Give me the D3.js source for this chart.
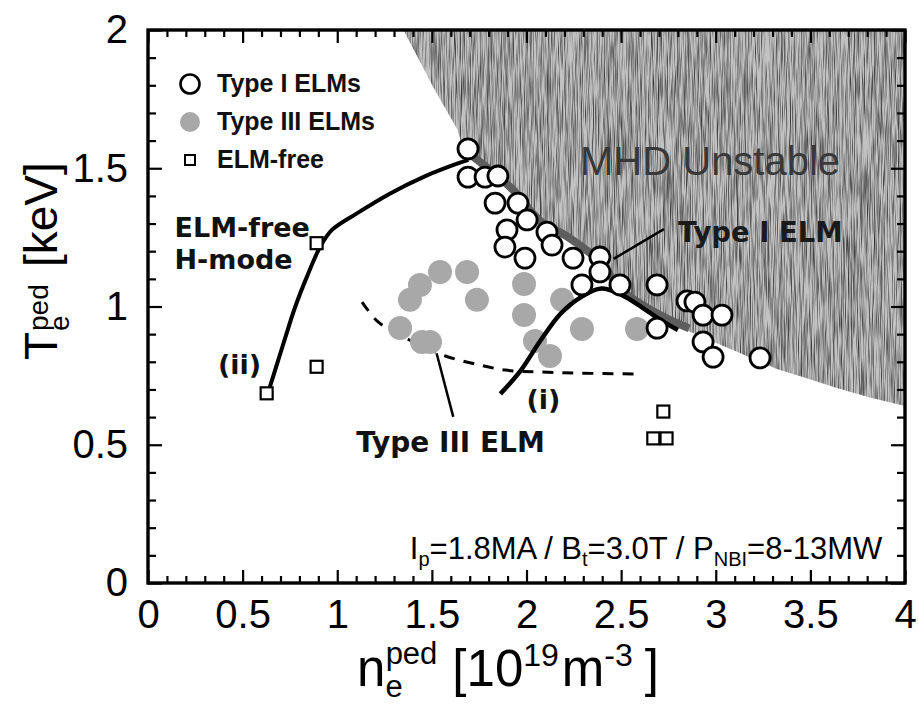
<!DOCTYPE html>
<html>
<head>
<meta charset="utf-8">
<script src="https://cdn.jsdelivr.net/npm/d3@7"></script>
<style>
  body { margin: 0; background: #fff; }
  svg text { font-family: "Liberation Sans", Arial, sans-serif; }
</style>
</head>
<body>
<svg id="chart" width="918" height="708"></svg>
<script>
// ---- data: pedestal density n_e (1e19 m^-3) vs pedestal temperature T_e (keV) ----
const typeIElms = [
  [1.691, 1.570], [1.691, 1.468], [1.781, 1.468], [1.849, 1.472],
  [1.834, 1.374], [1.955, 1.374], [1.897, 1.277], [2.003, 1.313],
  [1.886, 1.215], [1.992, 1.175], [2.108, 1.269], [2.135, 1.222],
  [2.246, 1.175], [2.388, 1.179], [2.293, 1.078], [2.388, 1.125],
  [2.494, 1.078], [2.690, 1.078], [2.690, 0.922], [2.848, 1.020],
  [2.890, 1.016], [2.933, 0.969], [3.033, 0.969], [2.933, 0.872],
  [2.986, 0.817], [3.234, 0.814]
];
const typeIIIElms = [
  [1.543, 1.125], [1.686, 1.125], [1.437, 1.078], [1.384, 1.024],
  [1.738, 1.024], [1.332, 0.922], [1.448, 0.872], [1.490, 0.872],
  [1.987, 1.081], [1.987, 0.969], [2.188, 1.024], [2.045, 0.875],
  [2.124, 0.821], [2.293, 0.919], [2.584, 0.919]
];
const elmFree = [
  [0.627, 0.686], [0.891, 0.782], [0.891, 1.229],
  [2.723, 0.620], [2.670, 0.523], [2.740, 0.523]
];

// MHD stability boundary (lower-left edge of the unstable region)
const boundaryNe = [1.35, 1.51, 1.635, 1.66, 1.72, 1.93, 2.07, 2.22, 2.39, 2.50, 2.70, 2.86, 3.10, 3.32, 3.46, 3.64, 3.82, 4.00];
const boundaryTe = [2.00, 1.79, 1.64, 1.58, 1.53, 1.41, 1.30, 1.24, 1.15, 1.05, 0.96, 0.91, 0.84, 0.775, 0.745, 0.705, 0.67, 0.64];

// trajectory (ii): ELM-free H-mode
const trajIINe = [0.640, 0.716, 0.778, 0.840, 0.910, 0.972, 1.104, 1.280, 1.457, 1.615, 1.693];
const trajIITe = [0.700, 0.867, 0.999, 1.108, 1.216, 1.277, 1.337, 1.409, 1.469, 1.512, 1.530];

// trajectory (i): Type I ELMy H-mode
const trajINe = [1.862, 1.968, 2.074, 2.180, 2.288, 2.395, 2.502, 2.608, 2.714, 2.80];
const trajITe = [0.684, 0.767, 0.877, 0.974, 1.034, 1.065, 1.042, 0.998, 0.949, 0.915];

// Type III ELM threshold (dashed)
const typeIIIBoundNe = [1.131, 1.210, 1.307, 1.439, 1.571, 1.730, 1.889, 2.074, 2.286, 2.566];
const typeIIIBoundTe = [1.016, 0.948, 0.904, 0.861, 0.821, 0.792, 0.770, 0.763, 0.759, 0.756];

// axis ticks
const xMajorTicks = [0, 0.5, 1, 1.5, 2, 2.5, 3, 3.5, 4];
const xTickLabels = ["0", "0.5", "1", "1.5", "2", "2.5", "3", "3.5", "4"];
const yMajorTicks = [0, 0.5, 1, 1.5, 2];
const yTickLabels = ["0", "0.5", "1", "1.5", "2"];

// ---- layout ----
const svg = d3.select("#chart");
const pL = 148, pR = 905, pT = 30, pB = 583;
const x = d3.scaleLinear().domain([0, 4]).range([pL, pR]);
const y = d3.scaleLinear().domain([0, 2]).range([pB, pT]);
const zip = (a, b) => a.map((v, i) => [v, b[i]]);

const defs = svg.append("defs");
defs.append("clipPath").attr("id", "plotClip")
  .append("rect").attr("x", pL).attr("y", pT)
  .attr("width", pR - pL).attr("height", pB - pT);

// fine halftone speckle with faint vertical streaks, used for the shaded region
const speckle = defs.append("filter").attr("id", "speckle")
  .attr("filterUnits", "userSpaceOnUse")
  .attr("color-interpolation-filters", "sRGB")
  .attr("x", 0).attr("y", 0).attr("width", 918).attr("height", 708);
speckle.append("feTurbulence").attr("type", "fractalNoise")
  .attr("baseFrequency", "1.3 0.03").attr("numOctaves", 2).attr("seed", 4)
  .attr("result", "noise");
speckle.append("feColorMatrix").attr("in", "noise").attr("type", "matrix")
  .attr("values", "0 0 0 0 0  0 0 0 0 0  0 0 0 0 0  1.6 0 0 0 -0.62")
  .attr("result", "dots");
speckle.append("feComposite").attr("in", "dots").attr("in2", "SourceAlpha")
  .attr("operator", "in");

const plot = svg.append("g").attr("clip-path", "url(#plotClip)");

// MHD unstable region
const boundary = zip(boundaryNe, boundaryTe);
const region = boundary.concat([[4, 2]]);
const areaPath = d3.line().x(d => x(d[0])).y(d => y(d[1]))(region) + "Z";
plot.append("path").attr("d", areaPath).attr("fill", "#c2c2c2");
plot.append("path").attr("d", areaPath).attr("fill", "#000").attr("filter", "url(#speckle)");

// darker band along the boundary where Type I ELMs sit
const band = boundary.filter(d => d[0] >= 1.7 && d[0] <= 3.0);
plot.append("path")
  .attr("d", d3.line().x(d => x(d[0])).y(d => y(d[1]) - 3).curve(d3.curveCatmullRom)(band))
  .attr("fill", "none").attr("stroke", "#5e5e5e").attr("stroke-width", 8);

plot.append("text")
  .attr("x", x(2.97)).attr("y", y(1.475))
  .attr("text-anchor", "middle")
  .attr("font-size", 40).attr("fill", "#383838")
  .text("MHD Unstable");

// Type III ELM threshold
plot.append("path")
  .attr("d", d3.line().x(d => x(d[0])).y(d => y(d[1])).curve(d3.curveCatmullRom)(zip(typeIIIBoundNe, typeIIIBoundTe)))
  .attr("fill", "none").attr("stroke", "#000").attr("stroke-width", 3)
  .attr("stroke-dasharray", "11 9");

// Type III ELMs
plot.selectAll("circle.t3").data(typeIIIElms).join("circle")
  .attr("class", "t3")
  .attr("cx", d => x(d[0])).attr("cy", d => y(d[1])).attr("r", 12)
  .attr("fill", "#a8a8a8");

// trajectories
const lineGen = d3.line().x(d => x(d[0])).y(d => y(d[1])).curve(d3.curveCatmullRom);
plot.append("path").attr("d", lineGen(zip(trajIINe, trajIITe)))
  .attr("fill", "none").attr("stroke", "#000").attr("stroke-width", 4);
plot.append("path").attr("d", lineGen(zip(trajINe, trajITe)))
  .attr("fill", "none").attr("stroke", "#000").attr("stroke-width", 4.5);

// leader lines
const leaders = [
  [[2.460, 1.172], [2.726, 1.280]],
  [[1.525, 0.831], [1.613, 0.601]]
];
plot.selectAll("line.leader").data(leaders).join("line")
  .attr("class", "leader")
  .attr("x1", d => x(d[0][0])).attr("y1", d => y(d[0][1]))
  .attr("x2", d => x(d[1][0])).attr("y2", d => y(d[1][1]))
  .attr("stroke", "#000").attr("stroke-width", 2.5);

// Type I ELMs
plot.selectAll("circle.t1").data(typeIElms).join("circle")
  .attr("class", "t1")
  .attr("cx", d => x(d[0])).attr("cy", d => y(d[1])).attr("r", 10)
  .attr("fill", "#fff").attr("stroke", "#000").attr("stroke-width", 2.8);

// ELM-free
const sq = 12;
plot.selectAll("rect.ef").data(elmFree).join("rect")
  .attr("class", "ef")
  .attr("x", d => x(d[0]) - sq / 2).attr("y", d => y(d[1]) - sq / 2)
  .attr("width", sq).attr("height", sq)
  .attr("fill", "#fff").attr("stroke", "#000").attr("stroke-width", 2.2);

// annotations (heavy face)
const notes = [
  { t: "ELM-free", ne: 0.14, te: 1.252, size: 27, fill: "#111" },
  { t: "H-mode",   ne: 0.14, te: 1.135, size: 27, fill: "#111" },
  { t: "(ii)",     ne: 0.37, te: 0.755, size: 27, fill: "#111" },
  { t: "(i)",      ne: 2.00, te: 0.630, size: 27, fill: "#111" },
  { t: "Type III ELM", ne: 1.10, te: 0.475, size: 28, fill: "#111" },
  { t: "Type I ELM", ne: 2.80, te: 1.235, size: 27.5, fill: "#1a1a1a" }
];
svg.selectAll("text.note").data(notes).join("text")
  .attr("class", "note")
  .attr("x", d => x(d.ne)).attr("y", d => y(d.te))
  .style("font-family", "'DejaVu Sans', sans-serif").attr("font-weight", "bold")
  .attr("font-size", d => d.size).attr("fill", d => d.fill)
  .text(d => d.t);

// operating parameters
const params = svg.append("text")
  .attr("x", x(3.88)).attr("y", y(0.085))
  .attr("text-anchor", "end").attr("font-size", 31).attr("fill", "#000");
params.append("tspan").text("I");
params.append("tspan").attr("font-size", 20).attr("dy", 7).text("p");
params.append("tspan").attr("dy", -7).text("=1.8MA / B");
params.append("tspan").attr("font-size", 20).attr("dy", 7).text("t");
params.append("tspan").attr("dy", -7).text("=3.0T / P");
params.append("tspan").attr("font-size", 20).attr("dy", 7).text("NBI");
params.append("tspan").attr("dy", -7).text("=8-13MW");

// legend
const legend = svg.append("g");
const legRows = [
  { kind: "t1", label: "Type I ELMs" },
  { kind: "t3", label: "Type III ELMs" },
  { kind: "ef", label: "ELM-free" }
];
legRows.forEach((r, i) => {
  const cy = 84 + i * 38, cx = 190;
  if (r.kind === "t1") {
    legend.append("circle").attr("cx", cx).attr("cy", cy).attr("r", 9.5)
      .attr("fill", "#fff").attr("stroke", "#000").attr("stroke-width", 2.6);
  } else if (r.kind === "t3") {
    legend.append("circle").attr("cx", cx).attr("cy", cy).attr("r", 10)
      .attr("fill", "#a8a8a8");
  } else {
    legend.append("rect").attr("x", cx - 5).attr("y", cy - 5).attr("width", 10).attr("height", 10)
      .attr("fill", "#fff").attr("stroke", "#000").attr("stroke-width", 2);
  }
  legend.append("text").attr("x", 217).attr("y", cy + 8)
    .attr("font-size", 25).attr("font-weight", "bold").attr("fill", "#111")
    .text(r.label);
});

// ---- axes: ticks inward on all four sides ----
const xMinor = d3.range(0, 41).map(i => i / 10).filter(v => !xMajorTicks.some(m => Math.abs(m - v) < 1e-9));
const yMinor = d3.range(0, 21).map(i => i / 10).filter(v => !yMajorTicks.some(m => Math.abs(m - v) < 1e-9));
const tickFont = 40;

function styleAxis(g) {
  g.select(".domain").remove();
  g.selectAll(".tick line").attr("stroke", "#000").attr("stroke-width", 2.2);
}

svg.append("g").attr("transform", `translate(0,${pB})`)
  .call(d3.axisBottom(x).tickValues(xMinor).tickSize(-7).tickFormat(""))
  .call(styleAxis);
svg.append("g").attr("transform", `translate(0,${pB})`)
  .call(d3.axisBottom(x).tickValues(xMajorTicks).tickSize(-13).tickPadding(17)
    .tickFormat((d, i) => xTickLabels[i]))
  .call(styleAxis)
  .call(g => g.selectAll("text").attr("font-size", tickFont).attr("fill", "#000"));
svg.append("g").attr("transform", `translate(0,${pT})`)
  .call(d3.axisTop(x).tickValues(xMinor).tickSize(-7).tickFormat(""))
  .call(styleAxis);
svg.append("g").attr("transform", `translate(0,${pT})`)
  .call(d3.axisTop(x).tickValues(xMajorTicks).tickSize(-13).tickFormat(""))
  .call(styleAxis);

svg.append("g").attr("transform", `translate(${pL},0)`)
  .call(d3.axisLeft(y).tickValues(yMinor).tickSize(-8).tickFormat(""))
  .call(styleAxis);
svg.append("g").attr("transform", `translate(${pL},0)`)
  .call(d3.axisLeft(y).tickValues(yMajorTicks).tickSize(-14).tickPadding(20)
    .tickFormat((d, i) => yTickLabels[i]))
  .call(styleAxis)
  .call(g => g.selectAll("text").attr("font-size", tickFont).attr("fill", "#000"));
svg.append("g").attr("transform", `translate(${pR},0)`)
  .call(d3.axisRight(y).tickValues(yMinor).tickSize(-8).tickFormat(""))
  .call(styleAxis);
svg.append("g").attr("transform", `translate(${pR},0)`)
  .call(d3.axisRight(y).tickValues(yMajorTicks).tickSize(-14).tickFormat(""))
  .call(styleAxis);

// frame
svg.append("rect").attr("x", pL).attr("y", pT)
  .attr("width", pR - pL).attr("height", pB - pT)
  .attr("fill", "none").attr("stroke", "#000").attr("stroke-width", 3.4);

// axis titles
const xt = svg.append("text").attr("x", 357).attr("y", 686).attr("font-size", 51).attr("fill", "#000");
xt.append("tspan").text("n");
xt.append("tspan").attr("font-size", 31).attr("dy", 11).text("e");
xt.append("tspan").attr("font-size", 31).attr("dx", -17).attr("dy", -33).text("ped");
xt.append("tspan").attr("dx", 15).attr("dy", 22).text("[10");
xt.append("tspan").attr("font-size", 32).attr("dy", -20).text("19");
xt.append("tspan").attr("dx", 3).attr("dy", 20).text("m");
xt.append("tspan").attr("font-size", 32).attr("dy", -20).text("-3");
xt.append("tspan").attr("dx", 12).attr("dy", 20).text("]");

const yt = svg.append("g").attr("transform", "translate(57,360) rotate(-90)");
yt.append("text").attr("x", 0).attr("y", 0).attr("font-size", 46).attr("fill", "#000").text("T");
yt.append("text").attr("x", 29).attr("y", 12).attr("font-size", 28).attr("fill", "#000").text("e");
yt.append("text").attr("x", 29).attr("y", -9).attr("font-size", 28).attr("fill", "#000").text("ped");
yt.append("text").attr("x", 93).attr("y", 0).attr("font-size", 46).attr("fill", "#000").text("[keV]");
</script>
</body>
</html>
